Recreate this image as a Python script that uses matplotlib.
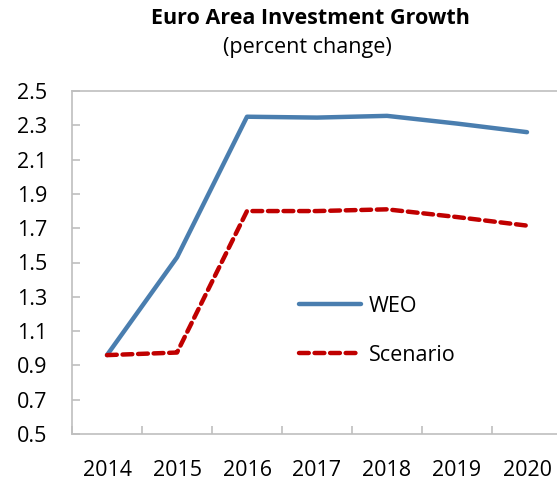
import matplotlib
matplotlib.use("Agg")
import matplotlib.pyplot as plt

years = ["2014", "2015", "2016", "2017", "2018", "2019", "2020"]
weo = [0.96, 1.53, 2.35, 2.345, 2.355, 2.31, 2.26]
scenario = [0.96, 0.975, 1.80, 1.80, 1.81, 1.765, 1.715]
yticks = [0.5, 0.7, 0.9, 1.1, 1.3, 1.5, 1.7, 1.9, 2.1, 2.3, 2.5]

plt.rcParams['font.family'] = ['Open Sans', 'DejaVu Sans']

W, H = 557, 483
fig = plt.figure(figsize=(W / 100, H / 100), dpi=100)
ax = fig.add_axes([72 / W, 49 / H, 490 / W, 343 / H])

x = list(range(len(years)))
ax.plot(x, weo, color='#4A7EAF', lw=3.2, solid_capstyle='round', label='WEO')
ax.plot(x, scenario, color='#C00000', lw=3.2, ls=(0, (2.2, 1.3)), dash_capstyle='round', label='Scenario')

ax.set_xlim(-0.5, 6.5)
ax.set_ylim(0.5, 2.5)
ax.set_yticks(yticks)
ax.set_yticklabels([f"{v:.1f}" for v in yticks])
ax.set_xticks(x)
ax.set_xticklabels(years)
ax.set_xticks([i + 0.5 for i in range(-1, 7)], minor=True)

for s in ax.spines.values():
    s.set_color('#BFBFBF')
    s.set_linewidth(1.2)

fs = 15.5
ax.tick_params(axis='y', direction='in', length=6, color='#BFBFBF', width=1.2,
               labelsize=fs, pad=18, labelcolor='#000000')
ax.tick_params(axis='x', which='major', length=0, labelsize=fs, pad=18.5)
ax.tick_params(axis='x', which='minor', direction='in', length=6, color='#BFBFBF', width=1.2)

fig.text(310 / W, 1 - 18 / H, "Euro Area Investment Growth", ha='center', va='center',
         fontsize=15.5, fontweight='bold')
fig.text(307 / W, 1 - 47 / H, "(percent change)", ha='center', va='center', fontsize=15.5)

leg = ax.legend(loc='upper left', bbox_to_anchor=(299 / W, 1 - 296 / H),
                bbox_transform=fig.transFigure, frameon=False, fontsize=fs,
                handlelength=2.9, handletextpad=0.35, labelspacing=1.3,
                borderpad=0, borderaxespad=0)

fig.savefig("out.png", dpi=100)
